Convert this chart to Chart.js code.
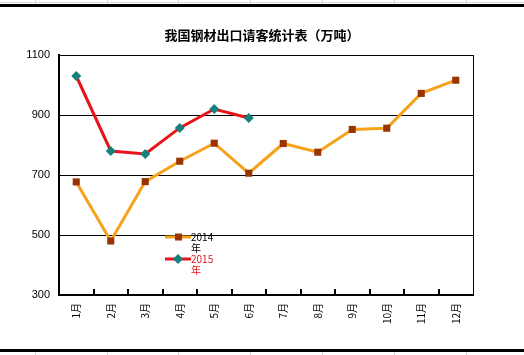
<!DOCTYPE html>
<html>
<head>
<meta charset="utf-8">
<script src="https://cdn.jsdelivr.net/npm/chart.js@4/dist/chart.umd.min.js"></script>
<style>
html,body{margin:0;padding:0;background:#fff;}
#wrap{width:524px;height:355px;position:relative;}
</style>
</head>
<body>
<div id="wrap"><canvas id="c" width="524" height="355"></canvas></div>
<script>
const chartTitle = '我国钢材出口请客统计表（万吨）';
const categories = ['1月','2月','3月','4月','5月','6月','7月','8月','9月','10月','11月','12月'];
const seriesNames = ['2014年','2015年'];
const values2014 = [677, 480, 678, 746, 806, 706, 805, 776, 852, 856, 972, 1016];
const values2015 = [1030, 780, 770, 857, 920, 890, null, null, null, null, null, null];
const yMin = 300, yMax = 1100, yStep = 200;

const CJK = '"Noto Sans CJK SC", "Liberation Sans", sans-serif';

const decor = {
  id: 'decor',
  beforeDraw(chart) {
    const ctx = chart.ctx, W = chart.width, H = chart.height;
    ctx.save();
    ctx.fillStyle = '#fff';
    ctx.fillRect(0, 0, W, H);
    ctx.fillStyle = '#d8d8d8';
    ctx.fillRect(0, 2, W, 1);
    const cols = [35, 107, 178, 250, 322, 394, 466];
    cols.forEach(x => { ctx.fillRect(x, 0, 1, 4); ctx.fillRect(x, 352, 1, 3); });
    ctx.fillStyle = '#000';
    ctx.fillRect(0, 4, W, 3);
    ctx.fillRect(0, 349, W, 3);
    ctx.fillStyle = '#000';
    ctx.font = 'bold 13px ' + CJK;
    ctx.textAlign = 'center';
    ctx.textBaseline = 'middle';
    ctx.fillText(chartTitle, 262, 35);
    ctx.restore();
  },
  afterDraw(chart) {
    const ctx = chart.ctx, a = chart.chartArea, xs = chart.scales.x;
    ctx.save();
    ctx.strokeStyle = '#000';
    ctx.lineWidth = 1;
    ctx.beginPath();
    ctx.moveTo(Math.round(a.right) + 0.5, a.top);
    ctx.lineTo(Math.round(a.right) + 0.5, a.bottom);
    ctx.stroke();
    ctx.lineWidth = 2;
    for (let i = 1; i < categories.length; i++) {
      const x = Math.round((xs.getPixelForTick(i - 1) + xs.getPixelForTick(i)) / 2);
      ctx.beginPath();
      ctx.moveTo(x, a.bottom);
      ctx.lineTo(x, a.bottom - 6);
      ctx.stroke();
    }
    ctx.restore();
  }
};

const legendIn = {
  id: 'legendIn',
  afterDatasetsDraw(chart) {
    const ctx = chart.ctx;
    const items = [
      { ds: chart.data.datasets[0], y: 237, text: '#000' },
      { ds: chart.data.datasets[1], y: 259, text: '#e8141b' }
    ];
    ctx.save();
    items.forEach(it => {
      const ds = it.ds;
      ctx.strokeStyle = ds.borderColor;
      ctx.lineWidth = 3;
      ctx.beginPath();
      ctx.moveTo(165, it.y);
      ctx.lineTo(191, it.y);
      ctx.stroke();
      ctx.fillStyle = ds.pointBackgroundColor;
      if (ds.pointStyle === 'rect') {
        ctx.fillRect(175, it.y - 3.5, 7, 7);
      } else {
        ctx.beginPath();
        ctx.moveTo(178, it.y - 5); ctx.lineTo(183, it.y); ctx.lineTo(178, it.y + 5); ctx.lineTo(173, it.y);
        ctx.closePath(); ctx.fill();
      }
      ctx.fillStyle = it.text;
      ctx.font = '10px ' + CJK;
      ctx.textAlign = 'left';
      ctx.textBaseline = 'middle';
      const lbl = ds.label;
      ctx.fillText(lbl.slice(0, -1), 191, it.y);
      ctx.fillText(lbl.slice(-1), 191, it.y + 11);
    });
    ctx.restore();
  }
};

new Chart(document.getElementById('c'), {
  type: 'line',
  data: {
    labels: categories,
    datasets: [
      {
        label: seriesNames[0], data: values2014,
        borderColor: '#f6a21d', borderWidth: 3,
        pointStyle: 'rect', pointRadius: 5, pointHoverRadius: 5,
        pointBackgroundColor: '#993300', pointBorderColor: '#993300', pointBorderWidth: 0,
        tension: 0, spanGaps: false
      },
      {
        label: seriesNames[1], data: values2015,
        borderColor: '#e8141b', borderWidth: 3,
        pointStyle: 'rectRot', pointRadius: 5, pointHoverRadius: 5,
        pointBackgroundColor: '#16807c', pointBorderColor: '#16807c', pointBorderWidth: 0,
        tension: 0, spanGaps: false
      }
    ]
  },
  options: {
    responsive: false,
    animation: false,
    devicePixelRatio: 1,
    layout: { padding: { top: 55, left: 0, right: 51, bottom: 0 } },
    plugins: { legend: { display: false }, title: { display: false }, tooltip: { enabled: false } },
    scales: {
      x: {
        offset: true,
        afterFit: s => { s.height = 60; },
        grid: { display: true, drawOnChartArea: false, drawTicks: false, offset: true, color: 'rgba(0,0,0,0)' },
        border: { display: true, color: '#000', width: 2 },
        ticks: { color: '#000', font: { family: CJK, size: 10 }, minRotation: 90, maxRotation: 90, padding: 8, autoSkip: false }
      },
      y: {
        min: yMin, max: yMax,
        afterFit: s => { s.width = 59; },
        grid: { color: '#000', lineWidth: 1, drawTicks: false },
        border: { display: true, color: '#000', width: 2 },
        ticks: { stepSize: yStep, color: '#000', font: { family: '"Liberation Sans", sans-serif', size: 11 }, padding: 9, callback: v => String(v) }
      }
    }
  },
  plugins: [decor, legendIn]
});
</script>
</body>
</html>
